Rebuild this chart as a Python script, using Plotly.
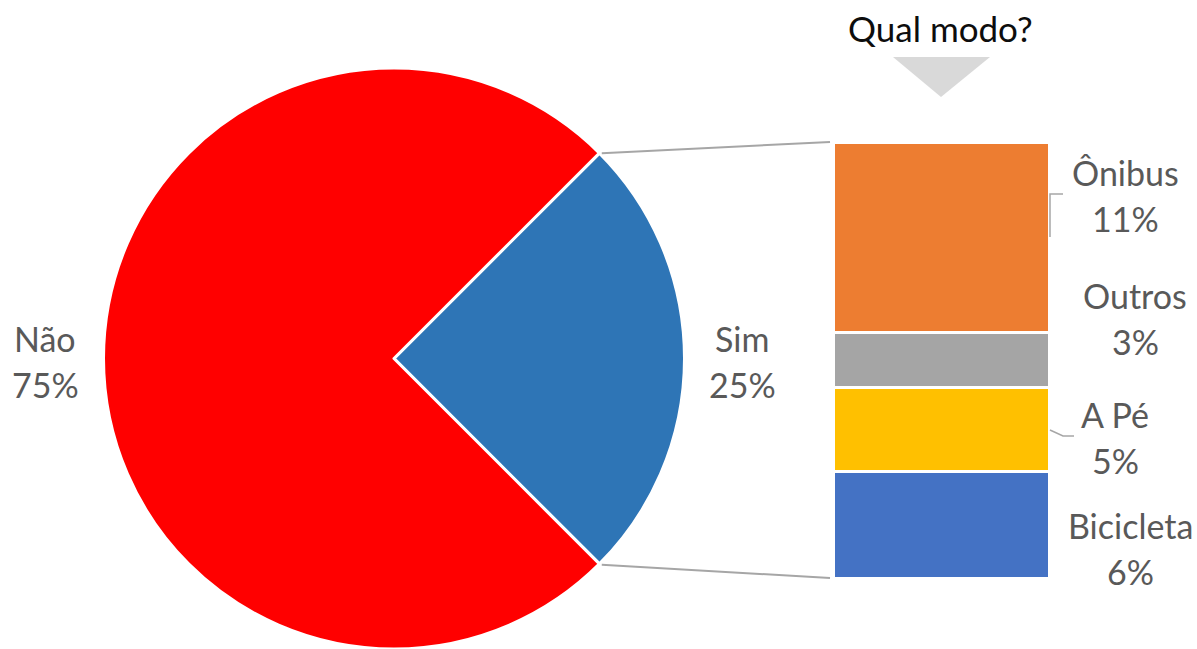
import math
import plotly.graph_objects as go

W, H = 1197, 649

# pie data
pie_labels = ["Sim", "Não"]
pie_values = [25, 75]
pie_colors = ["#2E75B6", "#FF0000"]

# breakdown of "Sim" (bottom to top)
mode_labels = ["Bicicleta", "A Pé", "Outros", "Ônibus"]
mode_values = [6.1, 4.8, 3.2, 10.9]
mode_colors = ["#4472C4", "#FFC000", "#A5A5A5", "#ED7D31"]

TXT = "#595959"
FONT = "Lato"


def px(x, y):
    return x / W, 1 - y / H


# geometry (pixels)
cx, cy, r = 394, 359, 291
bar_x0, bar_x1, bar_y0, bar_y1 = 833, 1049, 142, 578

share = [v / sum(pie_values) for v in pie_values]

fig = go.Figure()

# first slice ("Sim") centred on the right-hand side
fig.add_trace(go.Pie(
    labels=pie_labels, values=pie_values, sort=False, direction="clockwise",
    rotation=90 - 180 * share[0],
    marker=dict(colors=pie_colors, line=dict(color="white", width=3)),
    textinfo="none", hoverinfo="label+percent", showlegend=False,
    domain=dict(x=[(cx - r - 1) / W, (cx + r + 1) / W], y=[0, 1 - (cy - r) / H]),
))

for lab, val, col in zip(mode_labels, mode_values, mode_colors):
    fig.add_trace(go.Bar(
        x=[0], y=[val], name=lab, marker=dict(color=col, line=dict(color="white", width=3)),
        width=1, showlegend=False,
    ))

fig.update_layout(
    width=W, height=H, margin=dict(l=0, r=0, t=0, b=0),
    paper_bgcolor="white", plot_bgcolor="rgba(0,0,0,0)", barmode="stack",
    xaxis=dict(domain=[bar_x0 / W, bar_x1 / W], range=[-0.5, 0.5], visible=False, fixedrange=True),
    yaxis=dict(domain=[1 - bar_y1 / H, 1 - bar_y0 / H], range=[0, sum(mode_values)], visible=False, fixedrange=True),
    font=dict(family=FONT, color=TXT),
)


def two_line(x, y, l1, l2, size=34, color=TXT):
    for t, dy in ((l1, -23), (l2, 23)):
        X, Y = px(x, y + dy)
        fig.add_annotation(x=X, y=Y, xref="paper", yref="paper", text=t, showarrow=False,
                           xanchor="center", yanchor="middle", font=dict(size=size, color=color, family=FONT))


# pie labels
two_line(45, 361, "Não", f"{share[1]*100:.0f}%")
two_line(742, 361, "Sim", f"{share[0]*100:.0f}%")

# bar labels
bar_label_pos = {"Ônibus": (1125, 195), "Outros": (1135, 318), "A Pé": (1115, 437), "Bicicleta": (1130, 548)}
for lab, val in zip(mode_labels, mode_values):
    x, y = bar_label_pos[lab]
    two_line(x, y, lab, f"{val:.0f}%")

# leader lines
lc = "#A6A6A6"
for pts in ([(1050, 237), (1050, 194), (1063, 194)], [(1050, 430), (1063, 436), (1074, 436)]):
    path = "M " + " L ".join(f"{px(a, b)[0]},{px(a, b)[1]}" for a, b in pts)
    fig.add_shape(type="path", path=path, xref="paper", yref="paper", line=dict(color=lc, width=1.5))

# connectors from "Sim" slice edges to the bar
half = math.pi * share[0]
for sgn, by in ((1, bar_y0), (-1, bar_y1)):
    sx = cx + r * math.cos(half)
    sy = cy - sgn * r * math.sin(half)
    x0, y0 = px(sx + 2, sy)
    x1, y1 = px(bar_x0 - 3, by)
    fig.add_shape(type="line", x0=x0, y0=y0, x1=x1, y1=y1, xref="paper", yref="paper",
                  line=dict(color=lc, width=2))

# title and arrow
tx, ty = px(940, 28)
fig.add_annotation(x=tx, y=ty, xref="paper", yref="paper", text="Qual modo?", showarrow=False,
                   xanchor="center", yanchor="middle",
                   font=dict(size=35, color="#0D0D0D", family=FONT))
tri = [(893, 57), (990, 57), (941, 97)]
path = "M " + " L ".join(f"{px(a, b)[0]},{px(a, b)[1]}" for a, b in tri) + " Z"
fig.add_shape(type="path", path=path, xref="paper", yref="paper", fillcolor="#D9D9D9", line=dict(width=0))

fig.write_html("out.html", config={"displayModeBar": False},
               post_script="document.body.style.margin='0';")
